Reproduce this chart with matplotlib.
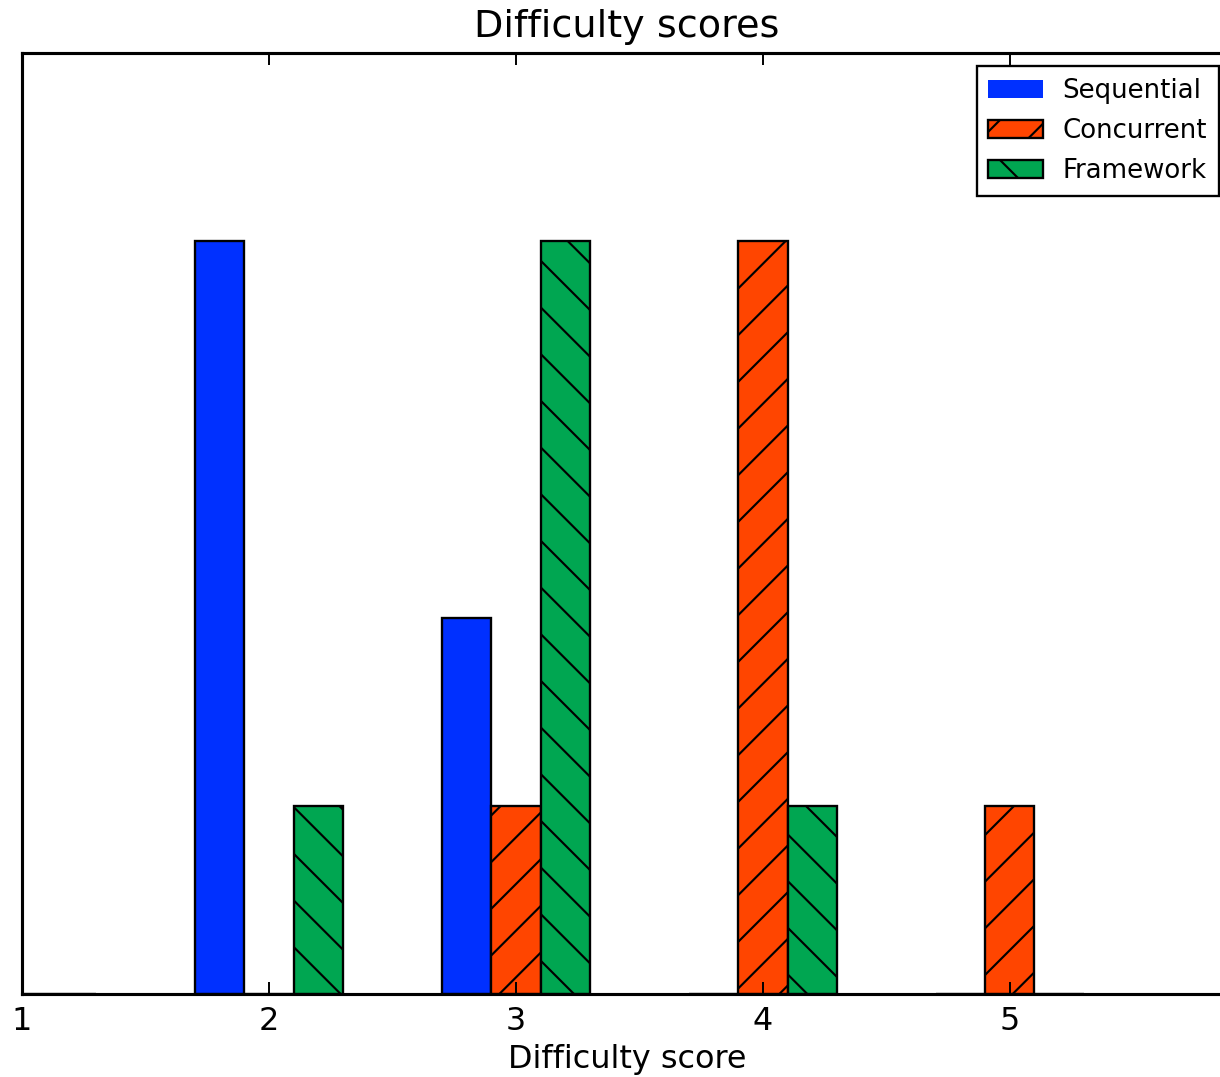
import matplotlib
matplotlib.use("Agg")
import matplotlib.pyplot as plt
from matplotlib.patches import Patch
import numpy as np

# difficulty scores 1..5, number of answers per approach
scores = [1, 2, 3, 4, 5]
sequential = [0, 4, 2, 0, 0]
concurrent = [0, 0, 1, 4, 1]
framework = [0, 1, 4, 1, 0]

labels = ["Sequential", "Concurrent", "Framework"]
colors = ["#0030ff", "#ff4500", "#00a651"]
hatches = ["", "//", "\\\\"]

plt.rcParams["hatch.linewidth"] = 0.55
plt.rcParams["font.family"] = "DejaVu Sans"

width = 0.2
x = np.array(scores)

fig = plt.figure(figsize=(1220 / 280, 1077 / 280), dpi=280)
ax = fig.add_axes([22 / 1220, 83 / 1077, 1210 / 1220, 941 / 1077])

series = [sequential, concurrent, framework]
for i, vals in enumerate(series):
    ax.bar(x + (i - 1) * width, vals, width, color=colors[i], hatch=hatches[i],
           edgecolor="black", linewidth=0.6, label=labels[i])

ax.set_xlim(1, 5.9)
ax.set_ylim(0, 5)
ax.set_xticks(scores)
ax.set_yticks([])
ax.tick_params(axis="x", direction="in", top=True, length=3.2, width=0.5,
               labelsize=8.2, pad=3)
for sp in ax.spines.values():
    sp.set_linewidth(0.8)

ax.set_title("Difficulty scores", fontsize=9.8, pad=4)
ax.set_xlabel("Difficulty score", fontsize=8.2, labelpad=2)

handles = [
    Patch(facecolor=colors[0], edgecolor="none"),
    Patch(facecolor=colors[1], edgecolor="black", hatch=hatches[1], linewidth=0.6),
    Patch(facecolor=colors[2], edgecolor="black", hatch=hatches[2], linewidth=0.6),
]
leg = ax.legend(handles, labels, loc="upper right", fontsize=6.7, fancybox=False,
                framealpha=1, edgecolor="black", handlelength=2.1,
                handletextpad=0.75, labelspacing=0.55, borderpad=0.45,
                borderaxespad=0.5)
leg.get_frame().set_linewidth(0.6)

fig.savefig("out.png", dpi=280)
